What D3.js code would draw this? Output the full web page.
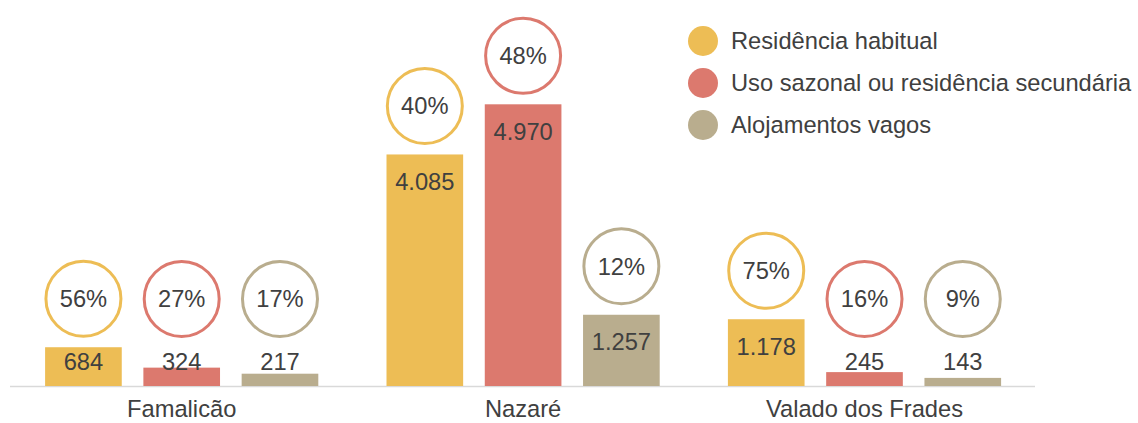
<!DOCTYPE html>
<html>
<head>
<meta charset="utf-8">
<script src="https://cdn.jsdelivr.net/npm/d3@7"></script>
<style>
  html, body { margin: 0; padding: 0; background: #fff; }
  svg { display: block; }
  text { font-family: "Liberation Sans", Arial, sans-serif; fill: #404040; }
</style>
</head>
<body>
<svg id="chart" width="1138" height="423"></svg>
<script>
const categories = ["Famalicão", "Nazaré", "Valado dos Frades"];
const seriesNames = ["Residência habitual", "Uso sazonal ou residência secundária", "Alojamentos vagos"];
const residenciaHabitual = [684, 4085, 1178];
const usoSazonal = [324, 4970, 245];
const alojamentosVagos = [217, 1257, 143];
const pctResidencia = ["56%", "40%", "75%"];
const pctSazonal = ["27%", "48%", "16%"];
const pctVagos = ["17%", "12%", "9%"];
const valueLabels = [
  ["684", "4.085", "1.178"],
  ["324", "4.970", "245"],
  ["217", "1.257", "143"]
];
const colors = ["#EDBD55", "#DC796E", "#B9AD8E"];

const seriesValues = [residenciaHabitual, usoSazonal, alojamentosVagos];
const seriesPct = [pctResidencia, pctSazonal, pctVagos];

const svg = d3.select("#chart");
const fs = 23.7;

const x0 = d3.scaleBand().domain(categories).range([11, 1035.2]).padding(0);
const x1 = d3.scaleBand().domain(d3.range(3)).range([0, x0.bandwidth()])
  .paddingInner(0.22).paddingOuter(0.347);
const y = d3.scaleLinear().domain([0, 5000]).range([386, 102.6]);

const rows = [];
categories.forEach((c, ci) => {
  seriesValues.forEach((s, si) => {
    rows.push({cat: c, ci, si, v: s[ci], pct: seriesPct[si][ci], label: valueLabels[si][ci]});
  });
});

// baseline
svg.append("line")
  .attr("x1", 10).attr("x2", 1035)
  .attr("y1", 386.5).attr("y2", 386.5)
  .attr("stroke", "#D9D9D9").attr("stroke-width", 1.6);

const g = svg.append("g");

g.selectAll("rect.bar").data(rows).join("rect")
  .attr("class", "bar")
  .attr("x", d => x0(d.cat) + x1(d.si))
  .attr("y", d => y(d.v))
  .attr("width", x1.bandwidth())
  .attr("height", d => y(0) - y(d.v))
  .attr("fill", d => colors[d.si]);

// value labels
g.selectAll("text.val").data(rows).join("text")
  .attr("class", "val")
  .attr("x", d => x0(d.cat) + x1(d.si) + x1.bandwidth() / 2)
  .attr("y", d => Math.min(y(d.v) + 27, 362) + 0.358 * fs)
  .attr("text-anchor", "middle")
  .style("font-size", fs + "px")
  .text(d => d.label);

// percentage circles
const cy = d => Math.min(y(d.v) - 48.5, 299);
g.selectAll("circle.pct").data(rows).join("circle")
  .attr("class", "pct")
  .attr("cx", d => x0(d.cat) + x1(d.si) + x1.bandwidth() / 2)
  .attr("cy", cy)
  .attr("r", 37.5)
  .attr("fill", "#fff")
  .attr("stroke", d => colors[d.si])
  .attr("stroke-width", 3);

g.selectAll("text.pct").data(rows).join("text")
  .attr("class", "pct")
  .attr("x", d => x0(d.cat) + x1(d.si) + x1.bandwidth() / 2)
  .attr("y", d => cy(d) + 0.358 * fs)
  .attr("text-anchor", "middle")
  .style("font-size", fs + "px")
  .text(d => d.pct);

// category axis labels
svg.selectAll("text.cat").data(categories).join("text")
  .attr("class", "cat")
  .attr("x", d => x0(d) + x0.bandwidth() / 2)
  .attr("y", 417)
  .attr("text-anchor", "middle")
  .style("font-size", fs + "px")
  .text(d => d);

// legend
const legend = svg.append("g");
seriesNames.forEach((n, i) => {
  const ly = 41 + i * 42;
  legend.append("circle").attr("cx", 703).attr("cy", ly).attr("r", 15).attr("fill", colors[i]);
  legend.append("text").attr("x", 731).attr("y", ly + 0.358 * fs)
    .style("font-size", fs + "px").text(n);
});
</script>
</body>
</html>
